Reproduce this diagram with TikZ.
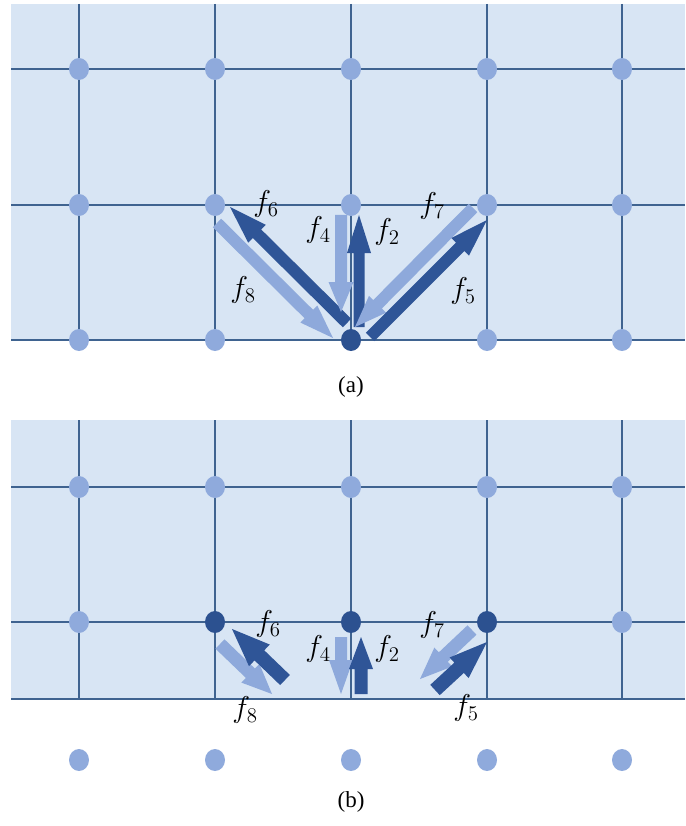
\documentclass[tikz,border=0pt]{standalone}
\usepackage{fontspec}
\newfontfamily\capfont{Liberation Serif}
\usetikzlibrary{calc,shapes.geometric}
\definecolor{bgblue}{HTML}{D8E5F4}
\definecolor{gridc}{HTML}{3F6390}
\definecolor{lightb}{HTML}{8EA9DB}
\definecolor{darkb}{HTML}{2F5597}
\definecolor{dotl}{HTML}{8FAADC}
\definecolor{dotd}{HTML}{2C5190}
\newcommand{\flab}[1]{\scalebox{1.45}{$f_{#1}$}}
% fat block arrow: #1 style, #2 tail, #3 tip, #4 shaft half width, #5 head half width, #6 head length
\newcommand{\fatarr}[6]{%
  \coordinate (tmpH) at ($(#3)!#6!(#2)$);
  \fill[#1] ($(#2)!#4!90:(#3)$) -- ($(tmpH)!#4!90:(#3)$) -- ($(tmpH)!#5!90:(#3)$) -- (#3)
    -- ($(tmpH)!#5!-90:(#3)$) -- ($(tmpH)!#4!-90:(#3)$) -- ($(#2)!#4!-90:(#3)$) -- cycle;}
\begin{document}
\begin{tikzpicture}[x=1pt,y=-1pt,
  gridline/.style={draw=gridc,line width=1.5pt},
  dotlight/.style={ellipse,fill=dotl,minimum width=20pt,minimum height=22pt,inner sep=0pt},
  dotdark/.style={ellipse,fill=dotd,minimum width=20pt,minimum height=22pt,inner sep=0pt},
  lbl/.style={font=\fontsize{20.74}{24}\selectfont,inner sep=0pt},
  caption/.style={font=\capfont\fontsize{23}{26}\selectfont,inner sep=0pt},
  darrow/.style={fill=darkb},
  larrow/.style={fill=lightb}]
\useasboundingbox (0,0) rectangle (685,826);
% ---------- panel (a) ----------
\fill[bgblue] (11,4) rectangle (685,341);
\foreach \y in {69,205,340} \draw[gridline] (11,\y) -- (685,\y);
\foreach \x in {79,215,351,487,622} \draw[gridline] (\x,4) -- (\x,341);
\foreach \x [count=\i] in {79,215,351,487,622} {
  \node[dotlight] (a1\i) at (\x,69) {};
  \node[dotlight] (a2\i) at (\x,205) {};
}
\node[dotlight] (a31) at (79,340) {};
\node[dotlight] (a32) at (215,340) {};
\node[dotdark]  (a33) at (351,340) {};
\node[dotlight] (a34) at (487,340) {};
\node[dotlight] (a35) at (622,340) {};
% arrow end points (a)
\coordinate (a2s) at (359,327); \coordinate (a2e) at (359,215);
\coordinate (a4s) at (341,215); \coordinate (a4e) at (341,312);
\coordinate (a6s) at (347,323); \coordinate (a6e) at (230,207);
\coordinate (a8s) at (217,223); \coordinate (a8e) at (333,338);
\coordinate (a7s) at (473,208); \coordinate (a7e) at (355,327);
\coordinate (a5s) at (370,337); \coordinate (a5e) at (487,220);
\fatarr{larrow}{a8s}{a8e}{6pt}{12pt}{34pt}
\fatarr{darrow}{a6s}{a6e}{6pt}{12.5pt}{38pt}
\fatarr{larrow}{a4s}{a4e}{6pt}{12.5pt}{30pt}
\fatarr{darrow}{a2s}{a2e}{5.5pt}{12pt}{38pt}
\fatarr{larrow}{a7s}{a7e}{6pt}{12pt}{32pt}
\fatarr{darrow}{a5s}{a5e}{6pt}{12.5pt}{38pt}
\node[lbl] (la6) at (266,204) {\flab{6}};
\node[lbl] (la4) at (318,230) {\flab{4}};
\node[lbl] (la2) at (387,232) {\flab{2}};
\node[lbl] (la7) at (432,206) {\flab{7}};
\node[lbl] (la8) at (243,290) {\flab{8}};
\node[lbl] (la5) at (463,291) {\flab{5}};
\node[caption] (capa) at (351,387) {(a)};
% ---------- panel (b) ----------
\fill[bgblue] (11,420) rectangle (685,700);
\foreach \y in {487,622,699} \draw[gridline] (11,\y) -- (685,\y);
\foreach \x in {79,215,351,487,622} \draw[gridline] (\x,420) -- (\x,699);
\foreach \x [count=\i] in {79,215,351,487,622} {
  \node[dotlight] (b1\i) at (\x,487) {};
  \node[dotlight] (b3\i) at (\x,760) {};
}
\node[dotlight] (b21) at (79,622) {};
\node[dotdark]  (b22) at (215,622) {};
\node[dotdark]  (b23) at (351,622) {};
\node[dotdark]  (b24) at (487,622) {};
\node[dotlight] (b25) at (622,622) {};
% arrow end points (b)
\coordinate (b6s) at (285,680); \coordinate (b6e) at (232,629);
\coordinate (b8s) at (220,644); \coordinate (b8e) at (272,694);
\coordinate (b4s) at (341,637); \coordinate (b4e) at (341,694);
\coordinate (b2s) at (361,694); \coordinate (b2e) at (361,637);
\coordinate (b7s) at (472,630); \coordinate (b7e) at (420,679);
\coordinate (b5s) at (435,690); \coordinate (b5e) at (487,642);
\fatarr{larrow}{b8s}{b8e}{6.5pt}{13pt}{30pt}
\fatarr{darrow}{b6s}{b6e}{7pt}{15pt}{38pt}
\fatarr{larrow}{b4s}{b4e}{6pt}{12pt}{34pt}
\fatarr{darrow}{b2s}{b2e}{6.5pt}{12pt}{32pt}
\fatarr{larrow}{b7s}{b7e}{6.5pt}{13pt}{32pt}
\fatarr{darrow}{b5s}{b5e}{7pt}{14pt}{38pt}
\node[lbl] (lb6) at (268,624) {\flab{6}};
\node[lbl] (lb4) at (318,649) {\flab{4}};
\node[lbl] (lb2) at (387,649) {\flab{2}};
\node[lbl] (lb7) at (432,625) {\flab{7}};
\node[lbl] (lb8) at (245,710) {\flab{8}};
\node[lbl] (lb5) at (466,708) {\flab{5}};
\node[caption] (capb) at (351,802) {(b)};
\end{tikzpicture}
\end{document}
